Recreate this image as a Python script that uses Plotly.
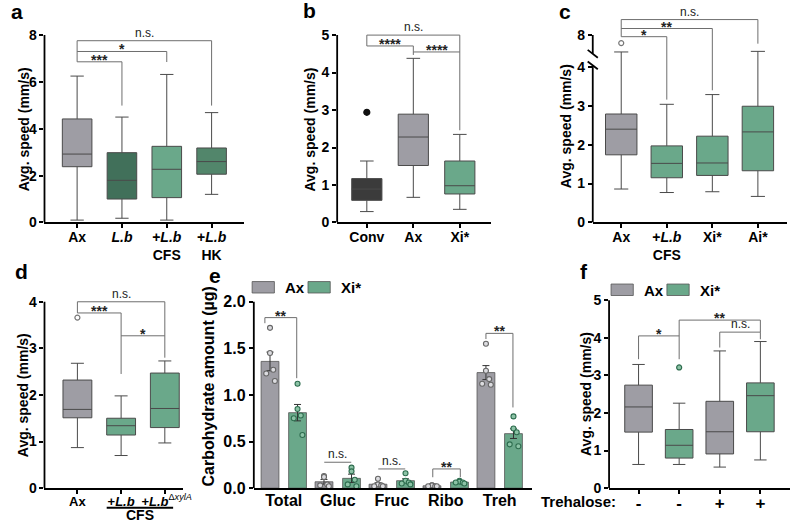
import plotly.graph_objects as go

W, H = 800, 529
FONT = "Liberation Sans, Arial, Helvetica, sans-serif"

GRAY = "#9e9da4"
GREEN = "#6aa88a"
DKGREEN = "#41705a"
MDGREEN = "#52866b"
CONV = "#3b3b3b"
LINE = "#4a4a4a"
BRK = "#6e6e6e"

# ---------------- data ----------------
# panel a
a_labels = ["Ax", "<i>L.b</i>", "+<i>L.b</i><br>CFS", "+<i>L.b</i><br>HK"]
a_low = [0.10, 0.18, 0.10, 1.20]
a_q1 = [2.38, 1.00, 1.06, 2.06]
a_med = [2.92, 1.80, 2.27, 2.60]
a_q3 = [4.42, 2.98, 3.25, 3.18]
a_high = [6.25, 4.50, 6.32, 4.69]
a_sig = [(0, 3, 7.76, 6.86, 4.99, "n.s."), (0, 2, 7.30, 7.30, 6.85, "*"),
         (0, 1, 6.86, 6.86, 4.99, "***")]

# panel b
b_labels = ["Conv", "Ax", "Xi*"]
b_low = [0.29, 0.67, 0.35]
b_q1 = [0.59, 1.52, 0.76]
b_med = [0.89, 2.28, 0.98]
b_q3 = [1.17, 2.89, 1.64]
b_high = [1.64, 4.38, 2.35]
b_out_x = [0]
b_out_y = [2.94]
b_sig = [(0, 2, 5.00, 4.71, 2.46, "n.s."), (0, 1, 4.71, 4.71, 4.55, "****"),
         (1, 2, 4.55, 4.47, 4.55, "****")]

# panel c (broken axis)
c_labels = ["Ax", "+<i>L.b</i><br>CFS", "Xi*", "Ai*"]
c_low = [0.86, 0.77, 0.79, 0.67]
c_q1 = [1.74, 1.15, 1.21, 1.33]
c_med = [2.40, 1.52, 1.53, 2.33]
c_q3 = [2.79, 1.97, 2.22, 2.99]
c_high = [5.15, 3.04, 3.29, 5.25]
c_out_x = [0]
c_out_y = [6.65]
c_ticks = [0, 1, 2, 3, 4, 8]
c_sig = [(0, 3, 5.22, 4.78, 4.60, "n.s."), (0, 2, 4.99, 4.99, 3.40, "**"),
         (0, 1, 4.78, 4.78, 3.16, "*")]

# panel d
d_labels = ["Ax", "+<i>L.b</i>",
            "\u00a0+<i>L.b</i><sup><span style='font-weight:normal'>\u0394<i>xylA</i></span></sup>"]
d_low = [0.87, 0.70, 0.97]
d_q1 = [1.51, 1.14, 1.30]
d_med = [1.69, 1.34, 1.71]
d_q3 = [2.32, 1.50, 2.47]
d_high = [2.68, 1.98, 2.73]
d_out_x = [0]
d_out_y = [3.66]
d_sig = [(0, 2, 4.00, 3.76, 2.80, "n.s."), (0, 1, 3.76, 3.76, 2.45, "***"),
         (1, 2, 3.27, 3.27, 3.27, "*")]

# panel e
e_labels = ["Total", "Gluc", "Fruc", "Ribo", "Treh"]
e_ax_mean = [1.36, 0.068, 0.042, 0.025, 1.24]
e_xi_mean = [0.81, 0.105, 0.080, 0.065, 0.585]
e_ax_sem = [0.10, 0.025, 0.015, 0.004, 0.075]
e_xi_sem = [0.088, 0.045, 0.020, 0.006, 0.052]
e_ax_pts = [[1.72, 1.45, 1.27, 1.23, 1.15],
            [0.13, 0.12, 0.04, 0.03, 0.02],
            [0.10, 0.04, 0.03, 0.02, 0.02],
            [0.03, 0.03, 0.02, 0.02, 0.02],
            [1.55, 1.26, 1.17, 1.12, 1.11]]
e_xi_pts = [[1.12, 0.85, 0.78, 0.75, 0.57],
            [0.22, 0.18, 0.09, 0.04, 0.02],
            [0.16, 0.08, 0.06, 0.05, 0.04],
            [0.08, 0.07, 0.06, 0.06, 0.05],
            [0.77, 0.64, 0.60, 0.47, 0.45]]
e_sig = [(-0.35, 0.24, 1.83, 1.77, 1.18, "**"),
         (0.75, 1.25, 0.278, 0.278, 0.278, "n.s."),
         (1.75, 2.25, 0.206, 0.206, 0.206, "n.s."),
         (2.76, 3.27, 0.206, 0.117, 0.117, "**"),
         (3.745, 4.245, 1.661, 1.60, 0.866, "**")]

# panel f
f_labels = ["-", "-", "+", "+"]
f_low = [0.63, 0.63, 0.56, 0.75]
f_q1 = [1.49, 0.80, 0.91, 1.50]
f_med = [2.16, 1.14, 1.50, 2.46]
f_q3 = [2.74, 1.56, 2.31, 2.80]
f_high = [3.29, 2.26, 3.65, 3.90]
f_out_x = [1]
f_out_y = [3.21]
f_sig = [(0, 1, 4.05, 3.43, 4.05, "*"), (1, 3, 4.47, 3.43, 4.15, "**"),
         (2, 3, 4.15, 3.74, 3.96, "n.s.")]

# ---------------- figure ----------------
fig = go.Figure()

# the photographed page maps figure pixel y to picture y as OY + SY*y
SY, OY = 0.975, 5.5


def px(x):
    return x / W


def py(y):
    return 1 - ((y - OY) / SY) / H


def c_scale(v):
    if v <= 4:
        return v
    if v <= 5:
        return 4 + (v - 4) * 0.364
    return 4.364 + (v - 5) * 0.152


def sfx(i):
    return "" if i == 1 else str(i)


def setup(i, x0, x1, y0px, unit, ymax, xr, xtext, ytickvals, yticktext, ytop,
          xsize=14, ysize=14, xticks="outside", xstand=-3):
    s = sfx(i)
    top_px = y0px - unit * ymax
    fig.update_layout(**{
        "xaxis" + s: dict(domain=[px(x0), px(x1)], range=xr, anchor="y" + s,
                          tickmode="array", tickvals=list(range(len(xtext))),
                          ticktext=xtext, tickangle=0, showline=True,
                          linecolor="black", linewidth=1.8, ticks=xticks,
                          ticklen=4, tickwidth=1.5, tickcolor="black",
                          ticklabelstandoff=xstand,
                          showgrid=False, zeroline=False,
                          tickfont=dict(family=FONT, size=xsize, color="black",
                                        weight="bold")),
        "yaxis" + s: dict(domain=[py(y0px), py(top_px)], range=[0, ymax],
                          anchor="x" + s, tickmode="array", tickvals=ytickvals,
                          ticktext=yticktext, showline=False, ticks="outside",
                          ticklen=4, tickwidth=1.5, tickcolor="black",
                          showgrid=False, zeroline=False,
                          tickfont=dict(family=FONT, size=ysize, color="black",
                                        weight="bold")),
    })
    if ytop is not None:
        fig.add_shape(type="line", xref="x" + s + " domain", yref="y" + s,
                      x0=0, x1=0, y0=0, y1=ytop,
                      line=dict(color="black", width=1.8))


def boxes(i, low, q1, med, q3, high, colors, width, f=lambda v: v):
    s = sfx(i)
    for k in range(len(low)):
        fig.add_trace(go.Box(
            x=[k], lowerfence=[f(low[k])], q1=[f(q1[k])], median=[f(med[k])],
            q3=[f(q3[k])], upperfence=[f(high[k])], orientation="v",
            fillcolor=colors[k], line=dict(color=LINE, width=1), width=width,
            whiskerwidth=0.45, boxpoints=False, xaxis="x" + s, yaxis="y" + s,
            showlegend=False, hoverinfo="skip"))


def outliers(i, xs, ys, fill, edge, size=5):
    s = sfx(i)
    fig.add_trace(go.Scatter(x=xs, y=ys, mode="markers", xaxis="x" + s,
                             yaxis="y" + s, showlegend=False, hoverinfo="skip",
                             marker=dict(size=size, color=fill,
                                         line=dict(color=edge, width=1.2))))


def brackets(i, sig):
    s = sfx(i)
    for x0, x1, y, yl, yr, lab in sig:
        segs = [(x0, y, x1, y)]
        if yl < y:
            segs.append((x0, yl, x0, y))
        if yr < y:
            segs.append((x1, yr, x1, y))
        for a, b, c, d in segs:
            fig.add_shape(type="line", xref="x" + s, yref="y" + s, x0=a, y0=b,
                          x1=c, y1=d, line=dict(color=BRK, width=1))
        ns = lab.startswith("n")
        fig.add_annotation(x=(x0 + x1) / 2, y=y, xref="x" + s, yref="y" + s,
                           text=lab, showarrow=False, yanchor="bottom",
                           yshift=-1 if ns else -8,
                           font=dict(family=FONT, size=12 if ns else 14,
                                     color="#222",
                                     weight="normal" if ns else "bold"))


def text(x, y, t, size=14, angle=0, xanchor="center", weight="bold"):
    fig.add_annotation(x=px(x), y=py(y), xref="paper", yref="paper", text=t,
                       showarrow=False, textangle=angle, xanchor=xanchor,
                       yanchor="middle",
                       font=dict(family=FONT, size=size, color="black",
                                 weight=weight))


# panel a
setup(1, 45, 247, 222.7, 23.5, 8.1, [-0.728, 3.728], a_labels,
      [0, 2, 4, 6, 8], ["0", "2", "4", "6", "8"], 8)
boxes(1, a_low, a_q1, a_med, a_q3, a_high, [GRAY, DKGREEN, GREEN, MDGREEN], 0.66)
brackets(1, a_sig)

# panel b
setup(2, 341, 497, 222.7, 37.6, 5.1, [-0.638, 2.68], b_labels,
      [0, 1, 2, 3, 4, 5], ["0", "1", "2", "3", "4", "5"], 5)
boxes(2, b_low, b_q1, b_med, b_q3, b_high, [CONV, GRAY, GREEN], 0.65)
outliers(2, b_out_x, b_out_y, "#111", "#111", 6)
brackets(2, b_sig)

# panel c
setup(3, 599.5, 796, 222.7, 39, 5.3, [-0.625, 3.64], c_labels,
      [c_scale(v) for v in c_ticks], [str(v) for v in c_ticks], None)
boxes(3, c_low, c_q1, c_med, c_q3, c_high, [GRAY, GREEN, GREEN, GREEN], 0.69,
      c_scale)
outliers(3, c_out_x, [c_scale(v) for v in c_out_y], "white", "#777", 5)
brackets(3, c_sig)
for ya, yb in [(0, 4.04), (4.34, c_scale(8))]:
    fig.add_shape(type="line", xref="x3 domain", yref="y3", x0=0, x1=0, y0=ya,
                  y1=yb, line=dict(color="black", width=1.8))
for yc in [4.04, 4.34]:
    fig.add_shape(type="line", xref="x3 domain", yref="y3", x0=-0.026, x1=0.026,
                  y0=yc + 0.1, y1=yc - 0.1, line=dict(color="black", width=1.8))

# panel d
setup(4, 45, 185, 489.3, 46.75, 4.05, [-0.753, 2.414], d_labels,
      [0, 1, 2, 3, 4], ["0", "1", "2", "3", "4"], 4, xsize=13, xstand=-4)
boxes(4, d_low, d_q1, d_med, d_q3, d_high, [GRAY, GREEN, GREEN], 0.66)
outliers(4, d_out_x, d_out_y, "white", "#777", 5)
brackets(4, d_sig)
fig.add_shape(type="line", xref="x4", yref="paper", x0=0.67, x1=2.19,
              y0=py(509), y1=py(509), line=dict(color="black", width=1.8))
fig.add_annotation(x=1.43, y=py(516.5), xref="x4", yref="paper", text="CFS",
                   showarrow=False, yanchor="middle",
                   font=dict(family=FONT, size=14, color="black", weight="bold"))

# panel e
setup(5, 256.7, 538, 489.3, 93.5, 2.02, [-0.555, 4.597], e_labels,
      [0, 0.5, 1.0, 1.5, 2.0], ["0.0", "0.5", "1.0", "1.5", "2.0"], 2.0,
      xsize=16, ysize=16, xticks="")
ex = list(range(len(e_labels)))
for mean, sem, off, col in [(e_ax_mean, e_ax_sem, -0.42, GRAY),
                            (e_xi_mean, e_xi_sem, 0.09, GREEN)]:
    fig.add_trace(go.Bar(x=ex, y=mean, width=0.33, offset=off, xaxis="x5",
                         yaxis="y5", showlegend=False, hoverinfo="skip",
                         marker=dict(color=col, line=dict(color="#555", width=0.8)),
                         error_y=dict(type="data", array=sem, visible=True,
                                      color="#333", thickness=1, width=3.5)))
jit = [0.0, 0.0, 0.06, -0.07, 0.09]
for pts, ctr, fill, edge in [(e_ax_pts, -0.255, "#dcdce0", "#666666"),
                             (e_xi_pts, 0.255, "#8cc3a6", "#2e6d4f")]:
    xs, ys = [], []
    for k, vals in enumerate(pts):
        for j, v in enumerate(vals):
            xs.append(k + ctr + jit[j])
            ys.append(v)
    fig.add_trace(go.Scatter(x=xs, y=ys, mode="markers", xaxis="x5", yaxis="y5",
                             showlegend=False, hoverinfo="skip",
                             marker=dict(size=5, color=fill,
                                         line=dict(color=edge, width=1.1))))
brackets(5, e_sig)
fig.update_layout(barmode="overlay")

# panel f
setup(6, 616, 799, 489.3, 37.72, 5.05, [-0.726, 3.73], f_labels,
      [0, 1, 2, 3, 4, 5], ["0", "1", "2", "3", "4", "5"], 5, xsize=17,
      xstand=-5)
boxes(6, f_low, f_q1, f_med, f_q3, f_high, [GRAY, GREEN, GRAY, GREEN], 0.68)
outliers(6, f_out_x, f_out_y, "#8cc3a6", "#2e6d4f", 5)
brackets(6, f_sig)
text(625, 503, "Trehalose:", 15, xanchor="right")

# legends (e, f)
for lx, ly in [(255, 282), (618, 284.5)]:
    for dx, col, lab in [(0, GRAY, "Ax"), (56.5, GREEN, "Xi*")]:
        fig.add_shape(type="rect", xref="paper", yref="paper",
                      x0=px(lx + dx), x1=px(lx + dx + 22.5),
                      y0=py(ly), y1=py(ly + 11.5),
                      fillcolor=col, line=dict(color="#555", width=0.8))
        text(lx + dx + 31, ly + 6, lab, 15, xanchor="left")

# y axis titles
for x, y, t, sz in [(24.5, 129, "Avg. speed (mm/s)", 14),
                    (314, 129, "Avg. speed (mm/s)", 14),
                    (572.5, 126, "Avg. speed (mm/s)", 14),
                    (23.3, 396, "Avg. speed (mm/s)", 14),
                    (210.7, 387, "Carbohydrate amount (\u00b5g)", 16),
                    (592.5, 395, "Avg. speed (mm/s)", 14)]:
    text(x, y, t, sz, angle=-90)

# panel letters
for x, y, t in [(17.5, 11, "a"), (313, 10, "b"), (571.5, 11, "c"),
                (21.5, 272, "d"), (217, 275.5, "e"), (591, 271.5, "f")]:
    text(x, y, t, 21)

fig.update_layout(width=W, height=H, margin=dict(l=0, r=0, t=0, b=0),
                  paper_bgcolor="white", plot_bgcolor="white", showlegend=False,
                  font=dict(family=FONT, color="black"))

PIN = ("document.body.style.margin='0';"
       "document.documentElement.style.overflow='hidden';"
       "document.body.style.overflow='hidden';"
       "var g=document.querySelector('.plotly-graph-div');"
       "g.style.position='fixed';g.style.left='0px';g.style.top='0px';")

fig.write_html("out.html", post_script=PIN, config={"displayModeBar": False})
